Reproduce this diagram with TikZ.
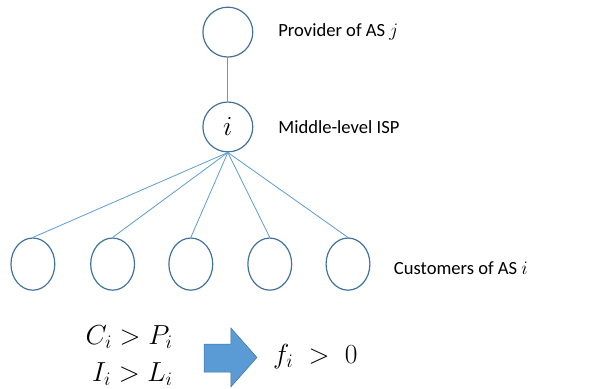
\documentclass[tikz,border=0pt]{standalone}
\usepackage{fontspec}
\setmainfont{Carlito}
\usetikzlibrary{shapes.geometric}
\definecolor{linkblue}{HTML}{5B9BD5}
\definecolor{rimblue}{HTML}{41719C}
\begin{document}
\begin{tikzpicture}[
  asnode/.style={circle,draw=rimblue,line width=0.9pt,minimum size=1.32cm,inner sep=0pt},
  custnode/.style={ellipse,draw=rimblue,line width=0.9pt,minimum width=1.16cm,minimum height=1.38cm,inner sep=0pt},
  link/.style={draw=linkblue,line width=0.6pt},
  caption/.style={anchor=west,inner sep=0pt,font=\fontsize{14}{17}\selectfont},
  eqn/.style={inner sep=0pt,font=\fontsize{19.5}{28}\selectfont}]
\useasboundingbox (0,0) rectangle (15.88,10.27);
\node[asnode] (prov) at (6.03,9.42) {};
\node[asnode,font=\fontsize{20}{24}\selectfont] (mid) at (6.03,6.91) {$i$};
\node[custnode] (c1) at (0.87,3.28) {};
\node[custnode] (c2) at (2.98,3.28) {};
\node[custnode] (c3) at (5.05,3.28) {};
\node[custnode] (c4) at (7.14,3.28) {};
\node[custnode] (c5) at (9.21,3.28) {};
\draw[link] (prov) -- (mid);
\foreach \k in {1,...,5}
  \draw[link] (mid.south) -- (c\k.north);
\node[caption] (provtxt) at (7.36,9.42) {Provider of AS $j$};
\node[caption] (midtxt) at (7.36,6.91) {Middle-level ISP};
\node[caption] (custtxt) at (10.42,3.18) {Customers of AS $i$};
% condition and result
\node[eqn,anchor=east,align=right] (cond) at (4.58,0.86) {$C_i > P_i$\\$I_i > L_i$};
\draw[draw=rimblue,fill=linkblue] (5.40,1.16) -- (6.11,1.16) -- (6.11,1.59) -- (6.80,0.81)
  -- (6.11,0.03) -- (6.11,0.42) -- (5.40,0.42) -- cycle;
\node[eqn,anchor=west,font=\fontsize{21}{25}\selectfont] (res) at (7.22,0.84) {$f_i \;>\; 0$};
\end{tikzpicture}
\end{document}
